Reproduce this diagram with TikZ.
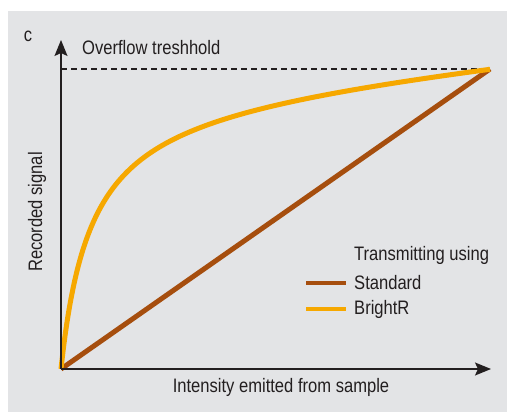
\documentclass[tikz,border=0pt]{standalone}
\usepackage{fontspec}
\setmainfont{Liberation Sans}[FakeStretch=0.85]
\usetikzlibrary{arrows.meta,positioning}
\definecolor{panelgray}{HTML}{E3E4E6}
\definecolor{inkgray}{HTML}{231F20}
\definecolor{standardbrown}{HTML}{A64E0E}
\definecolor{brightorange}{HTML}{F6A800}

\begin{document}
\begin{tikzpicture}[x=1pt,y=-1pt,
    font=\fontsize{19.5}{22}\selectfont, text=inkgray,
    axis/.style={line width=1.5pt, draw=inkgray, -{Stealth[length=16pt,width=13pt,inset=3pt]}},
    curve/.style={line width=5pt, line join=round},
    legendtext/.style={anchor=west, inner sep=0pt}]
    \useasboundingbox (0,0) rectangle (507,412);
    % Panel
    \fill[panelgray] (8,11) rectangle (507,412);
    \node (panel) at (28,36) {c};

    % Corner points
    \coordinate (O) at (61,369);
    \coordinate (T) at (490,69);
    \coordinate (Ytop) at (61,40);
    \coordinate (Xend) at (491,369);

    % Overflow level
    \draw[line width=1.5pt, inkgray, dash pattern=on 6pt off 4pt] (O |- T) -- (T);
    \node[legendtext] (overflow) at (82,48) {Overflow treshhold};

    % Standard
    \draw[curve, standardbrown] (O) -- (T);

    % BrightR
    \draw[curve, brightorange] plot[domain=0:429, samples=200, smooth]
        ({61+\x}, {369-(277.5*(\x/(30+\x))+0.094*\x)});

    % Axes
    \draw[axis] (O) -- (Ytop);
    \draw[axis] (O) -- (Xend);
    \node (xlabel) at (281,387) {Intensity emitted from sample};
    \node[rotate=90] (ylabel) at (37,212) {Recorded signal};

    % Legend
    \node[legendtext] (legtitle) at (354,255) {Transmitting using};
    \coordinate (s1) at (306,283);
    \coordinate (s2) at (346,283);
    \draw[line width=4pt, standardbrown] (s1) -- (s2);
    \node[legendtext, right=8pt of s2] (standard) {Standard};
    \coordinate (b1) at (306,309);
    \coordinate (b2) at (346,309);
    \draw[line width=4pt, brightorange] (b1) -- (b2);
    \node[legendtext, right=8pt of b2] (brightr) {BrightR};
\end{tikzpicture}
\end{document}
